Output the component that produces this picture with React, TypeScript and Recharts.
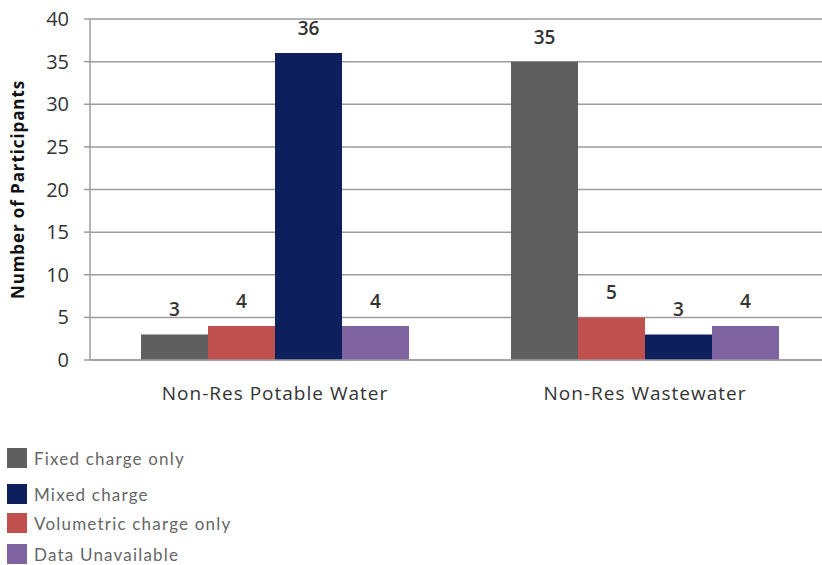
import { BarChart, Bar, XAxis, YAxis, CartesianGrid, LabelList } from "recharts";

const categories = ["Non-Res Potable Water", "Non-Res Wastewater"];
const fixedCharge = [3, 35];
const volumetricCharge = [4, 5];
const mixedCharge = [36, 3];
const dataUnavailable = [4, 4];
const yTicks = [0, 5, 10, 15, 20, 25, 30, 35, 40];

// bar order in the groups
const series = [
    { key: "fixed", name: "Fixed charge only", color: "#5f5f5f" },
    { key: "volumetric", name: "Volumetric charge only", color: "#c0504d" },
    { key: "mixed", name: "Mixed charge", color: "#0d1f5c" },
    { key: "unavailable", name: "Data Unavailable", color: "#8064a2" },
];

// legend order differs from bar order
const legendOrder = ["fixed", "mixed", "volumetric", "unavailable"];
const legendTops = [448, 484, 513, 544];

const data = categories.map((c, i) => ({
    category: c,
    fixed: fixedCharge[i],
    volumetric: volumetricCharge[i],
    mixed: mixedCharge[i],
    unavailable: dataUnavailable[i],
}));

const axisFont = "'Open Sans', sans-serif";

const App = () => {
    return (
        <div
            style={{
                position: "absolute",
                left: 0,
                top: 0,
                width: 822,
                height: 565,
                overflow: "hidden",
                background: "#fff",
                fontFamily: axisFont,
            }}
        >
            <BarChart
                width={840}
                height={420}
                data={data}
                margin={{ top: 19, right: 10, left: 0, bottom: 10 }}
                barCategoryGap={51}
                barGap={0}
            >
                <CartesianGrid vertical={false} stroke="#9c9c9c" strokeWidth={1.5} />
                <XAxis
                    dataKey="category"
                    height={50}
                    stroke="#9c9c9c"
                    strokeWidth={1.5}
                    tickLine={false}
                    tickMargin={21}
                    tick={{ fill: "#333", fontSize: 19, fontFamily: axisFont, letterSpacing: 1 }}
                />
                <YAxis
                    width={90}
                    domain={[0, 40]}
                    ticks={yTicks}
                    interval={0}
                    stroke="#9c9c9c"
                    strokeWidth={1.5}
                    tickSize={6}
                    tickMargin={15}
                    tick={{ fill: "#333", fontSize: 20, fontFamily: axisFont }}
                    label={{
                        value: "Number of Participants",
                        angle: -90,
                        position: "insideLeft",
                        offset: 18,
                        style: {
                            textAnchor: "middle",
                            fontWeight: 700,
                            fontSize: 17,
                            letterSpacing: 0.9,
                            fill: "#111",
                            fontFamily: axisFont,
                        },
                    }}
                />
                {series.map((s) => (
                    <Bar key={s.key} dataKey={s.key} name={s.name} fill={s.color} isAnimationActive={false}>
                        <LabelList
                            dataKey={s.key}
                            position="top"
                            offset={18}
                            style={{ fill: "#333", fontSize: 19, fontFamily: axisFont, fontWeight: 600 }}
                        />
                    </Bar>
                ))}
            </BarChart>

            {legendOrder.map((k, i) => {
                const s = series.find((x) => x.key === k)!;
                return (
                    <div
                        key={k}
                        style={{
                            position: "absolute",
                            left: 7,
                            top: legendTops[i],
                            height: 20,
                            display: "flex",
                            alignItems: "center",
                        }}
                    >
                        <div style={{ width: 20, height: 20, background: s.color }} />
                        <span
                            style={{
                                marginLeft: 7,
                                fontSize: 17,
                                color: "#666",
                                fontFamily: "Lato, sans-serif",
                                letterSpacing: 1.2,
                            }}
                        >
                            {s.name}
                        </span>
                    </div>
                );
            })}
        </div>
    );
};

export default App;
